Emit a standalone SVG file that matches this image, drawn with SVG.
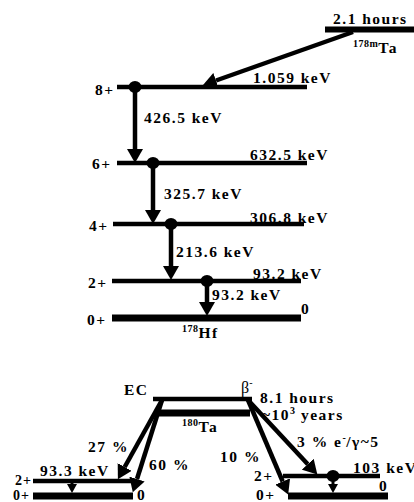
<svg xmlns="http://www.w3.org/2000/svg" width="414" height="502" viewBox="0 0 414 502">
<style>
text{font-family:"Liberation Serif","Times New Roman",serif;font-weight:bold;font-size:15.5px;letter-spacing:1.5px;fill:#000}
.sup{font-size:10px;letter-spacing:0.5px}
.lvl{stroke:#000;stroke-width:4.5}
.thick{stroke:#000;stroke-width:7}
.arr{stroke:#000;stroke-width:4.5;fill:none}
.sarr{stroke:#000;stroke-width:3;fill:none}
.reg{font-weight:normal}
.sm{font-size:14px;letter-spacing:1px}
</style>
<defs>
<marker id="ah" markerUnits="userSpaceOnUse" markerWidth="14" markerHeight="16" viewBox="0 0 14 16" refX="0" refY="8" orient="auto">
<path d="M0,0 L14,8 L0,16 z" fill="#000"/>
</marker>
<marker id="sh" markerUnits="userSpaceOnUse" markerWidth="9" markerHeight="10" viewBox="0 0 9 10" refX="0" refY="5" orient="auto">
<path d="M0,0 L9,5 L0,10 z" fill="#000"/>
</marker>
</defs>

<g id="ta178m">
<line x1="325" y1="29.5" x2="414" y2="29.5" stroke="#000" stroke-width="6"/>
<text x="333" y="24">2.1 hours</text>
<text x="353" y="53"><tspan class="sup" dy="-6">178m</tspan><tspan dy="6">Ta</tspan></text>
</g>

<g id="lvl8">
<line class="lvl" x1="117" y1="87" x2="307" y2="87"/>
<ellipse cx="135" cy="87" rx="6.5" ry="6"/>
<text x="95" y="95">8+</text>
<text x="253" y="83">1.059 keV</text>
</g>

<g id="lvl6">
<line class="lvl" x1="117" y1="163" x2="307" y2="163"/>
<ellipse cx="153" cy="163" rx="6.5" ry="6"/>
<text x="92" y="169">6+</text>
<text x="250" y="160">632.5 keV</text>
</g>

<g id="lvl4">
<line class="lvl" x1="113" y1="224" x2="304" y2="224"/>
<ellipse cx="171" cy="224" rx="6.5" ry="6"/>
<text x="89" y="231">4+</text>
<text x="250" y="223">306.8 keV</text>
</g>

<g id="lvl2">
<line class="lvl" x1="112" y1="281" x2="301" y2="281"/>
<ellipse cx="207" cy="281" rx="6.5" ry="6"/>
<text x="88" y="288">2+</text>
<text x="253" y="279">93.2 keV</text>
</g>

<g id="lvl0">
<line class="thick" x1="112" y1="318" x2="301" y2="318"/>
<text x="87" y="325">0+</text>
<text x="301" y="314">0</text>
<text x="182" y="338"><tspan class="sup" dy="-6">178</tspan><tspan dy="6">Hf</tspan></text>
</g>

<g id="ta180">
<line class="lvl" x1="153" y1="399" x2="252" y2="399"/>
<line class="thick" x1="157" y1="413" x2="250" y2="413"/>
<text x="124" y="395">EC</text>
<text x="241" y="393" class="reg" style="font-size:16px;letter-spacing:0">β<tspan class="sup" dy="-7">-</tspan></text>
<text x="260" y="403">8.1 hours</text>
<text x="262" y="420">~10<tspan class="sup" dy="-6">3</tspan><tspan dy="6"> years</tspan></text>
<text x="182" y="432"><tspan class="sup" dy="-6">180</tspan><tspan dy="6">Ta</tspan></text>
</g>

<g id="hf180">
<line class="lvl" x1="33" y1="481" x2="132" y2="481"/>
<line class="thick" x1="33" y1="496" x2="133" y2="496"/>
<text x="15" y="485" class="sm">2+</text>
<text x="13" y="500" class="sm">0+</text>
<text x="137" y="499.5">0</text>
<text x="40" y="476">93.3 keV</text>
</g>

<g id="w180">
<line class="lvl" x1="283" y1="476" x2="380" y2="476"/>
<line class="thick" x1="288" y1="496" x2="388" y2="496"/>
<ellipse cx="333" cy="476" rx="6.5" ry="6"/>
<text x="254" y="481">2+</text>
<text x="256" y="499.5">0+</text>
<text x="379" y="491">0</text>
<text x="353" y="473">103 keV</text>
</g>

<g id="connectors">
<line class="arr" x1="353" y1="32" x2="216" y2="80.5" marker-end="url(#ah)"/>
<line class="arr" x1="135" y1="87" x2="135" y2="149" marker-end="url(#ah)"/>
<line class="arr" x1="153" y1="163" x2="153" y2="210" marker-end="url(#ah)"/>
<line class="arr" x1="171" y1="224" x2="171" y2="266" marker-end="url(#ah)"/>
<line class="arr" x1="207" y1="281" x2="207" y2="302" marker-end="url(#ah)"/>
<line class="arr" x1="162" y1="400" x2="124.7" y2="467" marker-end="url(#ah)"/>
<line class="arr" x1="162" y1="400" x2="137" y2="479" marker-end="url(#ah)"/>
<line class="arr" x1="248" y1="400" x2="307.8" y2="464.2" marker-end="url(#ah)"/>
<line class="arr" x1="248" y1="400" x2="282.7" y2="481.5" marker-end="url(#ah)"/>
<line class="sarr" x1="72" y1="481" x2="72" y2="484" marker-end="url(#sh)"/>
<line class="sarr" x1="333" y1="476" x2="333" y2="484" marker-end="url(#sh)"/>
</g>

<g id="labels">
<text x="144" y="123">426.5 keV</text>
<text x="164" y="199">325.7 keV</text>
<text x="176" y="257">213.6 keV</text>
<text x="212" y="300">93.2 keV</text>
<text x="88" y="452">27 %</text>
<text x="149" y="470">60 %</text>
<text x="220" y="462">10 %</text>
<text x="297" y="447">3 % e<tspan class="sup" dy="-6">-</tspan><tspan dy="6">/γ~5</tspan></text>
</g>
</svg>
